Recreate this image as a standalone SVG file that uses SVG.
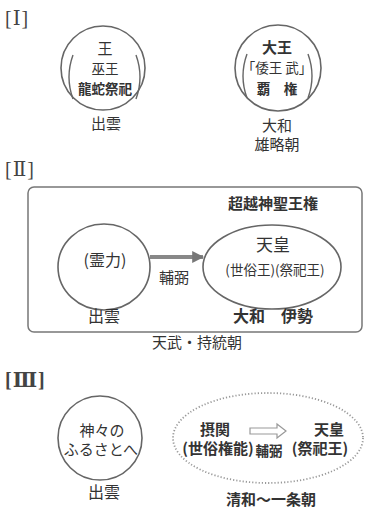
<svg xmlns="http://www.w3.org/2000/svg" width="366" height="511" viewBox="0 0 366 511">
<style>
text{font-family:"Noto Sans CJK JP","Noto Sans CJK SC",sans-serif;fill:#333;text-anchor:middle;}
.hd{font-family:"Liberation Serif","DejaVu Serif","Noto Sans CJK JP",serif;text-anchor:start;font-size:20px;fill:#444;letter-spacing:1px;}
.c{fill:none;stroke:#666;stroke-width:1.6;}
.p{fill:none;stroke:#666;stroke-width:1.4;}
.t13{font-size:13.5px;}
.t15{font-size:15px;}
.t16{font-size:16px;}
.b{font-weight:bold;}
</style>
<defs>
<marker id="ah" viewBox="0 0 10 10" refX="9" refY="5" markerWidth="3" markerHeight="3.2" orient="auto">
<path d="M0,0 L10,5 L0,10 z" fill="#777"/>
</marker>
</defs>
<rect width="366" height="511" fill="#fff"/>

<text class="hd" x="5" y="25">[Ⅰ]</text>
<text class="hd" x="5" y="176">[Ⅱ]</text>
<text class="hd b" x="5" y="387">[Ⅲ]</text>

<g id="n1">
<circle class="c" cx="103" cy="68" r="42"/>
<path class="p" d="M73,55 Q65,77 73,99"/>
<path class="p" d="M136,55 Q144,77 136,99"/>
<text class="t15" x="105" y="54">王</text>
<text class="t13" x="105" y="74">巫王</text>
<text class="t13 b" x="105" y="94">龍蛇祭祀</text>
<text class="t15" x="106" y="129">出雲</text>
</g>

<g id="n2">
<circle class="c" cx="278" cy="68" r="43"/>
<path class="p" d="M247,54 Q239,76 247,98"/>
<path class="p" d="M308,54 Q316,76 308,98"/>
<text class="t15 b" x="277" y="53">大王</text>
<text class="t13" x="277" y="73">「倭王 武」</text>
<text class="t13 b" x="277" y="94">覇　権</text>
<text class="t15" x="277" y="131">大和</text>
<text class="t15" x="277" y="150">雄略朝</text>
</g>

<g id="box2">
<rect x="28" y="187" width="334" height="145" rx="6" fill="none" stroke="#777" stroke-width="1.5"/>
<text class="t15 b" x="273" y="209" fill="#444">超越神聖王権</text>
</g>

<g id="n3">
<ellipse class="c" cx="104" cy="267" rx="46" ry="43"/>
<text class="t16" x="105" y="266">(霊力)</text>
<text class="t16" x="104" y="322">出雲</text>
</g>

<g id="n4">
<ellipse class="c" cx="272" cy="267" rx="69" ry="42"/>
<text style="font-size:17px" x="273" y="251">天皇</text>
<text class="t13" x="275" y="275">(世俗王)(祭祀王)</text>
<text class="t16 b" x="273" y="322">大和　伊勢</text>
</g>

<text class="t15" x="197" y="348">天武・持統朝</text>

<g id="n5">
<circle class="c" cx="100" cy="438" r="42"/>
<text class="t15" x="102" y="436">神々の</text>
<text class="t15" x="101" y="455">ふるさとへ</text>
<text class="t16" x="104" y="498">出雲</text>
</g>

<g id="n6">
<ellipse cx="268" cy="438" rx="95" ry="45" fill="none" stroke="#999" stroke-width="1.8" stroke-dasharray="1.2 2"/>
<text class="t15 b" x="215" y="435">摂関</text>
<text class="t15 b" x="329" y="435">天皇</text>
<text class="t15 b" x="218" y="454">(世俗権能)</text>
<text class="t13 b" x="269" y="456">輔弼</text>
<text class="t15 b" x="320" y="454">(祭祀王)</text>
<text class="t15 b" x="271" y="505">清和〜一条朝</text>
</g>

<g id="connectors">
<line x1="150" y1="257" x2="203" y2="257" stroke="#888" stroke-width="4" marker-end="url(#ah)"/>
<text class="t15" x="174" y="283">輔弼</text>
<path d="M250,428 L277,428 L277,424 L286,431 L277,438 L277,434 L250,434 z" fill="none" stroke="#999" stroke-width="1.2"/>
</g>
</svg>
